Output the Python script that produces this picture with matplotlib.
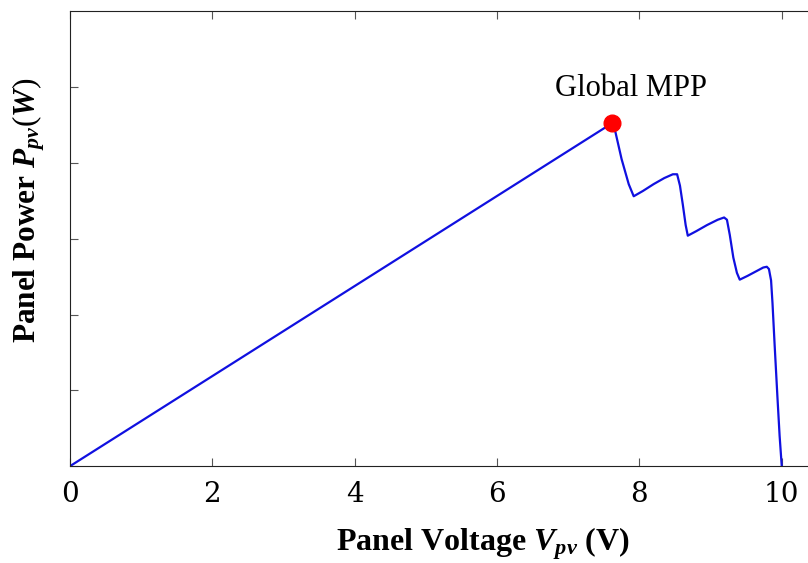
import numpy as np
import matplotlib.pyplot as plt

# P-V curve of a partially shaded panel
voltage = [0.0, 7.61, 7.66, 7.75, 7.85, 7.92, 8.05, 8.2, 8.35, 8.47, 8.53, 8.57,
           8.61, 8.65, 8.68, 8.8, 8.95, 9.1, 9.19, 9.23, 9.27, 9.32, 9.37, 9.41,
           9.52, 9.64, 9.74, 9.79, 9.82, 9.85, 9.87, 9.9, 9.94, 9.97, 10.0]
power = [0.0, 4.52, 4.42, 4.05, 3.72, 3.56, 3.63, 3.72, 3.80, 3.85, 3.85, 3.70,
         3.45, 3.18, 3.04, 3.10, 3.18, 3.25, 3.28, 3.25, 3.05, 2.75, 2.55, 2.46,
         2.51, 2.57, 2.62, 2.63, 2.60, 2.45, 2.15, 1.6, 0.9, 0.4, 0.0]
mpp_v, mpp_p = 7.61, 4.52

plt.rcParams['mathtext.fontset'] = 'custom'
plt.rcParams['mathtext.rm'] = 'Liberation Serif'
plt.rcParams['mathtext.it'] = 'Liberation Serif:italic'
plt.rcParams['mathtext.bf'] = 'Liberation Serif:bold'
plt.rcParams['mathtext.bfit'] = 'Liberation Serif:italic:bold'

fig = plt.figure(figsize=(8.08, 5.63), dpi=100)
ax = fig.add_axes([0.0866, 0.172, 0.969, 0.808])

ax.plot(voltage, power, color='#1010e0', lw=1.6)
ax.plot(mpp_v, mpp_p, 'o', color='red', ms=12, zorder=3)
ax.text(7.88, 4.88, 'Global MPP', ha='center', va='baseline',
        fontsize=22, family='Liberation Serif')

ax.set_xlim(0, 11)
ax.set_ylim(0, 6)
ax.set_xticks([0, 2, 4, 6, 8, 10])
ax.set_yticks([0, 1, 2, 3, 4, 5])
ax.tick_params(direction='in', top=True, right=True, length=6, color='#555555',
               labelleft=False, labelsize=20, pad=11)
for lbl in ax.get_xticklabels():
    lbl.set_family('DejaVu Serif')
for s in ax.spines.values():
    s.set_color('#222222')

fig.text(0.598, 0.035, r'Panel Voltage $\mathbfit{V_{pv}}$ (V)', ha='center', va='center',
         fontsize=23, weight='bold', family='Liberation Serif')
fig.text(0.035, 0.627, r'Panel Power $\mathbfit{P_{pv}}(\mathbfit{W})$', ha='center', va='center',
         rotation=90, fontsize=22.5, weight='bold', family='Liberation Serif')

fig.savefig('out.png', dpi=100)
